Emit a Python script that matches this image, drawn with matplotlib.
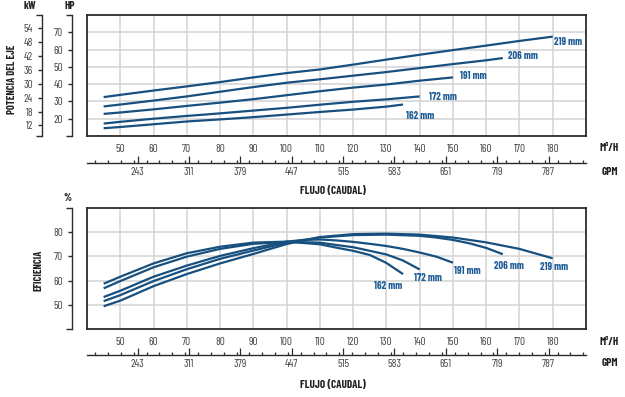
import matplotlib
matplotlib.use("Agg")
import matplotlib.pyplot as plt
import matplotlib.ticker as mticker
from matplotlib import font_manager as fm

_names = set(f.name for f in fm.fontManager.ttflist)
COND = 'DejaVu Sans'
for p in ['Barlow Condensed', 'Roboto Condensed', 'Archivo Narrow', 'Liberation Sans Narrow']:
    if p in _names:
        COND = p
        break
plt.rcParams['font.family'] = [COND, 'DejaVu Sans']

# ---------------- data ----------------
diameters = ['162 mm', '172 mm', '191 mm', '206 mm', '219 mm']

# shaft power (HP) vs flow (m3/h)
pw_flow_162 = [45, 50, 60, 70, 80, 90, 100, 110, 120, 130, 135]
pw_hp_162 = [14.5, 15.2, 16.8, 18.4, 19.6, 20.9, 22.4, 23.9, 25.3, 27.0, 28.2]
pw_flow_172 = [45, 50, 60, 70, 80, 90, 100, 110, 120, 130, 140]
pw_hp_172 = [17.2, 18.2, 20.0, 21.6, 23.1, 24.7, 26.3, 28.1, 29.8, 31.2, 32.9]
pw_flow_191 = [45, 50, 60, 70, 80, 90, 100, 110, 120, 130, 140, 150]
pw_hp_191 = [22.8, 23.6, 25.4, 27.4, 29.3, 31.3, 33.6, 35.9, 38.0, 39.8, 42.0, 43.9]
pw_flow_206 = [45, 50, 60, 70, 80, 90, 100, 110, 120, 130, 140, 150, 160, 165]
pw_hp_206 = [27.1, 28.2, 30.5, 32.9, 35.6, 38.3, 40.8, 42.8, 44.9, 47.0, 49.3, 51.6, 53.8, 55.1]
pw_flow_219 = [45, 50, 60, 70, 80, 90, 100, 110, 115, 120, 130, 140, 150, 160, 170, 180]
pw_hp_219 = [32.5, 33.8, 36.3, 38.7, 41.2, 43.9, 46.4, 48.5, 49.9, 51.3, 54.2, 57.0, 59.7, 62.3, 65.0, 67.5]

# efficiency (%) vs flow (m3/h)
ef_flow_162 = [45, 50, 60, 70, 80, 90, 100, 110, 115, 120, 125, 130, 135]
ef_pct_162 = [58.7, 61.6, 67.1, 71.3, 74.0, 75.7, 76.1, 75.0, 73.6, 72.3, 70.6, 67.3, 62.7]
ef_flow_172 = [45, 50, 60, 70, 80, 90, 100, 110, 115, 120, 125, 130, 135, 140]
ef_pct_172 = [56.8, 59.8, 65.5, 69.9, 73.1, 75.2, 76.0, 75.7, 74.7, 73.8, 72.3, 70.8, 68.3, 64.6]
ef_flow_191 = [45, 50, 60, 70, 80, 90, 100, 105, 110, 115, 120, 125, 130, 135, 140, 145, 150]
ef_pct_191 = [53.2, 55.8, 61.6, 66.2, 70.2, 73.4, 76.1, 76.8, 77.0, 76.6, 76.0, 75.2, 74.3, 73.1, 71.6, 69.9, 67.4]
ef_flow_206 = [45, 50, 60, 70, 80, 90, 100, 110, 120, 130, 140, 145, 150, 155, 160, 165]
ef_pct_206 = [51.5, 54.0, 59.8, 64.7, 69.0, 72.4, 75.7, 77.8, 78.8, 79.0, 78.5, 77.8, 76.8, 75.4, 73.5, 70.9]
ef_flow_219 = [45, 50, 60, 70, 80, 90, 100, 110, 120, 130, 140, 150, 160, 170, 180]
ef_pct_219 = [49.4, 51.7, 57.7, 62.7, 67.1, 71.0, 75.1, 78.0, 79.2, 79.4, 79.0, 77.8, 75.8, 73.1, 69.2]

flow_ticks = [50, 60, 70, 80, 90, 100, 110, 120, 130, 140, 150, 160, 170, 180]
gpm_ticks = [243, 311, 379, 447, 515, 583, 651, 719, 787]
hp_ticks = [20, 30, 40, 50, 60, 70]
kw_ticks = [12, 18, 24, 30, 36, 42, 48, 54]
eff_ticks = [50, 60, 70, 80]

# label anchor positions (data coords)
pw_label_x = [136, 142.7, 152, 166.7, 180.5]
pw_label_y = [21.6, 32.3, 44.5, 56.5, 64.2]
ef_label_x = [126.3, 138.2, 150.2, 162.3, 176.2]
ef_label_y = [57.9, 60.9, 64.1, 66.2, 65.8]

# ---------------- style ----------------
W, H = 625, 397
LINE = '#17507f'
TXT_BLUE = '#1d5b97'
GRID = '#d3d3d3'
FRAME = '#2b2b2b'
TICKC = '#444444'

KW_PER_HP = 0.7457
GPM_PER_M3H = 4.403


def hp2kw(h):
    return h * KW_PER_HP


def kw2hp(k):
    return k / KW_PER_HP


def q2gpm(q):
    return q * GPM_PER_M3H


def gpm2q(g):
    return g / GPM_PER_M3H


def fx(x):
    return x / W


def fy(y):
    return 1 - y / H


fig = plt.figure(figsize=(W / 100, H / 100), dpi=100)
fig.patch.set_facecolor('white')

ax_left, ax_w = fx(87), (586 - 87) / W
ax_h = 121 / H
ax1 = fig.add_axes([ax_left, fy(136), ax_w, ax_h])
ax2 = fig.add_axes([ax_left, fy(329), ax_w, ax_h])

pw_series = [(pw_flow_162, pw_hp_162), (pw_flow_172, pw_hp_172), (pw_flow_191, pw_hp_191),
             (pw_flow_206, pw_hp_206), (pw_flow_219, pw_hp_219)]
ef_series = [(ef_flow_162, ef_pct_162), (ef_flow_172, ef_pct_172), (ef_flow_191, ef_pct_191),
             (ef_flow_206, ef_pct_206), (ef_flow_219, ef_pct_219)]

for (fq, v) in pw_series:
    ax1.plot(fq, v, color=LINE, lw=1.6, solid_capstyle='butt', zorder=3)
for (fq, v) in ef_series:
    ax2.plot(fq, v, color=LINE, lw=1.6, solid_capstyle='butt', zorder=3)

for i, name in enumerate(diameters):
    ax1.text(pw_label_x[i], pw_label_y[i], name, color=TXT_BLUE, fontsize=7.5,
             fontweight='bold', ha='left', va='center', zorder=4)
    ax2.text(ef_label_x[i], ef_label_y[i], name, color=TXT_BLUE, fontsize=7.5,
             fontweight='bold', ha='left', va='center', zorder=4)


def style_main(ax, yticks, ylim):
    ax.set_xlim(40, 190)
    ax.set_ylim(*ylim)
    ax.set_xticks(flow_ticks)
    ax.set_yticks(yticks)
    ax.set_yticklabels([])
    ax.grid(True, color=GRID, lw=1.1, zorder=1)
    ax.set_axisbelow(True)
    ax.tick_params(axis='x', length=0, pad=5.5, labelsize=8, labelcolor=TICKC)
    ax.tick_params(axis='y', length=0)
    for s in ax.spines.values():
        s.set_color(FRAME)
        s.set_linewidth(1.3)


def gpm_axis(ax, loc):
    sec = ax.secondary_xaxis(loc, functions=(q2gpm, gpm2q))
    sec.set_xticks(gpm_ticks)
    sec.xaxis.set_minor_locator(mticker.MultipleLocator(17))
    sec.tick_params(axis='x', which='major', direction='in', length=5, width=0.9,
                    color=FRAME, labelsize=8, labelcolor=TICKC, pad=3)
    sec.tick_params(axis='x', which='minor', direction='in', length=2.5, width=0.9, color=FRAME)
    sec.spines['bottom'].set_color(FRAME)
    sec.spines['bottom'].set_linewidth(1.0)
    return sec


def yaxis_sec(ax, loc, funcs, ticks, lims, labelsize=8):
    sec = ax.secondary_yaxis(loc, functions=funcs)
    sec.set_yticks(ticks)
    sec.yaxis.set_minor_locator(mticker.FixedLocator(lims))
    sec.tick_params(axis='y', which='major', direction='out', length=3, width=1.0,
                    color=FRAME, labelsize=labelsize, labelcolor=TICKC, pad=3.5)
    sec.tick_params(axis='y', which='minor', direction='out', length=4, width=1.0, color=FRAME)
    sec.spines['left'].set_color(FRAME)
    sec.spines['left'].set_linewidth(1.0)
    return sec


style_main(ax1, hp_ticks, (10, 80))
style_main(ax2, eff_ticks, (40, 90))

ident = (lambda v: v, lambda v: v)
yaxis_sec(ax1, -0.030, ident, hp_ticks, [10, 80])
yaxis_sec(ax1, -0.090, (hp2kw, kw2hp), kw_ticks, [hp2kw(10), hp2kw(80)])
yaxis_sec(ax2, -0.030, ident, eff_ticks, [40, 90])

gpm_axis(ax1, -0.223)
gpm_axis(ax2, -0.215)

bold = dict(fontweight='bold', color='#222222')
fig.text(fx(30), fy(6), 'kW', ha='center', va='center', fontsize=8, **bold)
fig.text(fx(70), fy(6), 'HP', ha='center', va='center', fontsize=8, **bold)
fig.text(fx(12), fy(79), 'POTENCIA DEL EJE', ha='center', va='center', rotation=90, fontsize=7.5, **bold)
fig.text(fx(67), fy(198), '%', ha='center', va='center', fontsize=7.5, **bold)
fig.text(fx(38), fy(270), 'EFICIENCIA', ha='center', va='center', rotation=90, fontsize=7.5, **bold)

for (yq, yg, yf) in [(148, 172, 191), (342, 363, 385)]:
    fig.text(fx(599), fy(yq), 'M³/H', ha='left', va='center', fontsize=8, **bold)
    fig.text(fx(602), fy(yg), 'GPM', ha='left', va='center', fontsize=8, **bold)
    fig.text(fx(333), fy(yf), 'FLUJO (CAUDAL)', ha='center', va='center', fontsize=8, **bold)

fig.savefig('out.png', dpi=100, facecolor='white')
